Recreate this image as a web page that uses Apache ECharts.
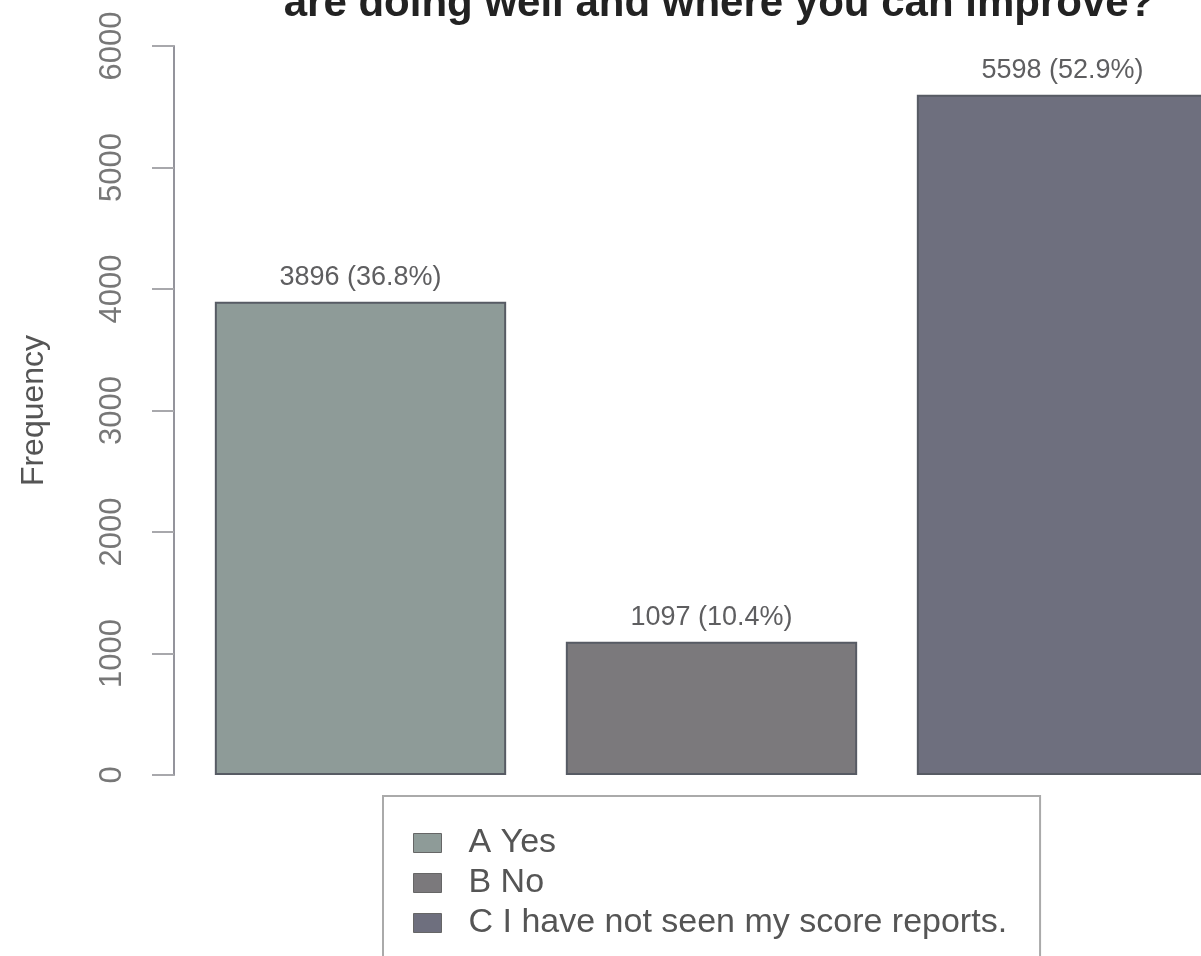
<!DOCTYPE html>
<html><head><meta charset="utf-8">
<script src="https://cdn.jsdelivr.net/npm/echarts@6/dist/echarts.min.js"></script>
<style>html,body{margin:0;padding:0;background:#fff;overflow:hidden}#c{width:1238px;height:1000px}</style>
</head><body><div id="c"></div>
<script>
const categories = ['A Yes', 'B No', 'C I have not seen my score reports.'];
const values = [3896, 1097, 5598];
const percents = ['36.8%', '10.4%', '52.9%'];
const yTicks = [0, 1000, 2000, 3000, 4000, 5000, 6000];
const colors = ['#8e9b98', '#7b797c', '#6e6f7e'];
const titleText = 'are doing well and where you can improve?';

const series = categories.map((name, i) => ({
  name: name,
  type: 'bar',
  stack: 'all',
  barWidth: '83%',
  data: values.map((v, j) => j === i ? v : '-'),
  itemStyle: { color: colors[i], borderColor: '#575b64', borderWidth: 2 },
  label: {
    show: true, position: 'top', distance: 11,
    formatter: p => p.value + ' (' + percents[i] + ')',
    color: '#5e5e60', fontSize: 27, fontFamily: 'Liberation Sans'
  }
}));

const chart = echarts.init(document.getElementById('c'));
chart.setOption({
  animation: false,
  color: colors,
  title: {
    text: titleText, left: 714, textAlign: 'center', top: -22,
    textStyle: { fontSize: 42, fontWeight: 'bold', color: '#222', fontFamily: 'Liberation Sans' }
  },
  grid: { left: 185, right: 0, top: 46, bottom: 225 },
  xAxis: {
    type: 'category', data: categories,
    axisLine: { show: false }, axisTick: { show: false }, axisLabel: { show: false }
  },
  yAxis: {
    type: 'value', min: yTicks[0], max: yTicks[yTicks.length - 1], interval: 1000,
    offset: 11,
    name: 'Frequency', nameLocation: 'middle', nameGap: 124, nameRotate: 90,
    nameTextStyle: { color: '#555', fontSize: 32, fontFamily: 'Liberation Sans' },
    axisLine: { show: true, lineStyle: { color: '#94949c', width: 2 } },
    axisTick: { show: true, length: 22, lineStyle: { color: '#a8a8ac', width: 2 } },
    axisLabel: { rotate: 90, margin: 46, color: '#777', fontSize: 31, fontFamily: 'Liberation Sans', formatter: v => String(v) },
    splitLine: { show: false }
  },
  legend: {
    orient: 'vertical', left: 383, top: 796,
    padding: [30, 33, 40, 30],
    itemGap: 6, itemWidth: 28, itemHeight: 19, icon: 'rect',
    borderColor: '#aaa', borderWidth: 2,
    itemStyle: { borderColor: '#666', borderWidth: 1 },
    textStyle: { color: '#555', fontSize: 34, lineHeight: 28, padding: [0, 0, 0, 22], fontFamily: 'Liberation Sans' },
    data: categories
  },
  series: series
});
</script></body></html>
